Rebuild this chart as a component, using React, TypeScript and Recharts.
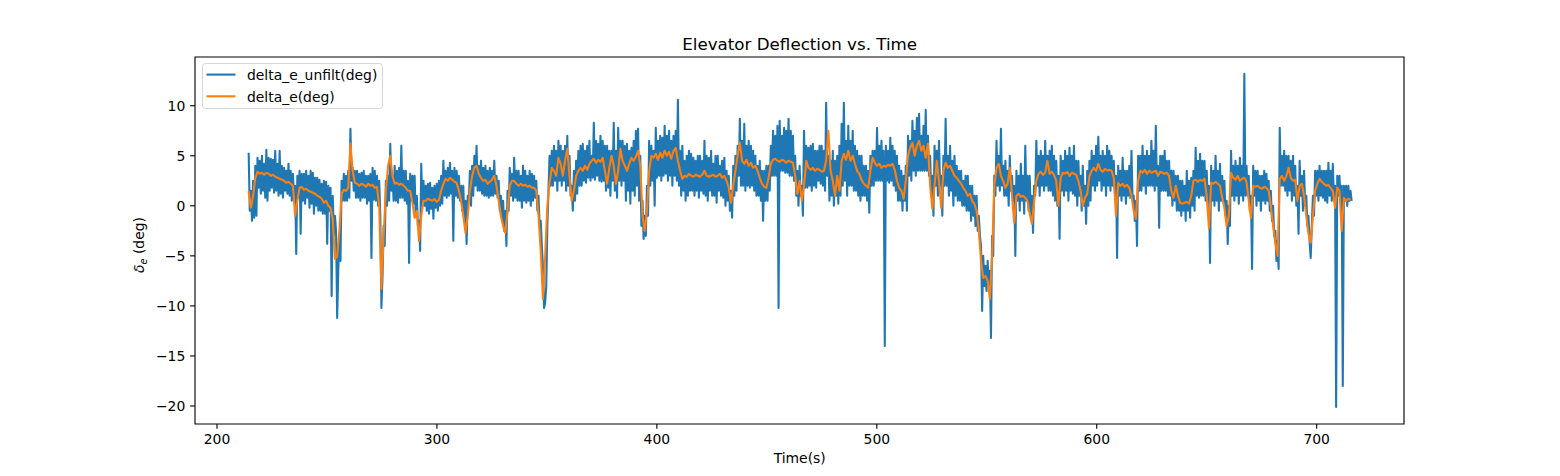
import { LineChart, Line, XAxis, YAxis, Legend, ReferenceArea } from 'recharts'

// ── Axis setup (matplotlib-style figure, 1560 x 476, dpi 100) ─────

const FONT = "'DejaVu Sans', sans-serif"
const PT = 100 / 72
const X_DOMAIN: [number, number] = [190, 739.7]
const Y_DOMAIN: [number, number] = [-21.8, 14.87]
const X_TICKS = [200, 300, 400, 500, 600, 700]
const Y_TICKS = [-20, -15, -10, -5, 0, 5, 10]

// ── Series ─────────────────────────────────────────────────────────
// unfiltered: one sample every ~0.5 s, filtered: one every ~1 s, both from t ≈ 214.4 s

const T0 = 214.4
const DT_UNFILT = 0.503
const DT_FILT = 1.006

const UNFILT = [
  5.3, -0.5, 1.5, -1.5, 2.5, -1.2, 4.0, -1.0, 4.8, 1.8, 4.5, 1.2, 5.0, 1.5, 4.2, 0.8, 5.6, 0.5, 4.8, 1.5,
  4.7, 1.8, 4.6, 1.3, 5.5, 1.5, 4.2, 1.0, 5.5, 1.2, 4.0, 0.8, 3.8, 1.5, 3.5, 1.2, 4.2, 1.0, 3.5, 0.5,
  3.2, 0.5, 2.0, -4.8, 3.0, 0.8, 3.5, -2.8, 3.2, 0.5, 3.2, 0.2, 3.5, 0.8, 3.0, -0.2, 3.5, 0.2, 3.3, -0.8,
  2.8, 0.0, 2.8, -0.5, 2.6, -0.5, 2.2, -0.8, 2.5, -0.8, 2.4, -3.8, 2.0, -0.5, 1.8, -9.0, 1.0, -3.0, -1.0, -2.5,
  -11.2, -6.5, -3.0, -5.5, 2.5, 0.5, 3.2, 0.5, 3.0, 0.5, 3.5, 0.8, 7.7, 2.5, 3.8, 1.5, 3.5, 0.8, 3.5, 0.8,
  3.2, 0.5, 3.3, 0.8, 3.5, 0.8, 3.0, 0.2, 3.0, 0.5, 3.2, -5.2, 3.8, 0.6, 3.5, 0.5, 3.0, 0.0, 2.5, -1.0,
  -10.2, -7.0, -2.0, -4.0, 2.5, 0.0, 3.0, 0.5, 6.2, 1.5, 3.0, 0.5, 4.0, 0.5, 3.5, 0.3, 3.8, 0.8, 6.0, 0.8,
  3.5, 0.5, 3.5, 0.2, 2.5, -5.7, 3.2, 0.5, 3.0, 0.2, 3.0, -1.0, 1.0, -2.0, -1.5, -4.5, 4.2, 0.0, 2.5, 0.0,
  2.0, -0.5, 2.2, -0.8, 2.3, -0.3, 1.8, -1.3, 2.0, -0.2, 2.2, -0.5, 2.5, 0.0, 3.0, 0.2, 4.5, 1.0, 3.5, 0.8,
  3.8, 1.0, 4.3, 1.2, 3.5, -3.5, 3.8, 1.0, 3.5, 0.8, 3.0, 0.5, 2.0, -0.5, 2.0, -1.5, 0.5, -3.8, 1.0, 0.5,
  3.5, 0.0, 4.0, 1.0, 5.0, 2.0, 6.0, 1.5, 4.0, 1.5, 4.5, 1.2, 3.8, 1.0, 4.0, 1.0, 3.5, 0.8, 3.8, 1.0,
  3.5, 1.0, 4.5, 1.2, 3.0, 0.8, 2.5, -0.5, 1.0, -1.5, 0.5, -2.5, -0.5, -4.0, 1.5, -0.5, 3.8, 1.0, 3.2, 0.5,
  4.8, 0.8, 3.5, 0.5, 3.5, 0.5, 3.0, -0.2, 4.0, 0.5, 3.5, 0.3, 3.0, 0.5, 3.5, 0.0, 3.2, 0.5, 3.0, 0.8,
  2.5, -0.5, 1.0, -2.0, -1.5, -4.0, -6.0, -10.2, -9.7, -8.0, -2.0, 1.5, 5.0, 2.0, 5.5, 2.0, 6.0, 2.5, 5.5, 1.5,
  6.5, 2.5, 6.0, 2.0, 5.5, 2.5, 6.0, 1.5, 7.0, 2.0, 5.0, 1.0, 2.0, -0.5, 3.5, 0.5, 4.5, 1.2, 5.5, 2.0,
  6.0, 2.0, 6.2, 2.5, 5.5, 2.3, 6.0, 2.8, 6.5, 2.5, 5.0, 2.8, 8.3, 2.6, 6.5, 3.0, 6.2, 2.5, 7.0, 2.4,
  6.5, 2.5, 6.0, 1.5, 6.0, 1.8, 5.5, 1.0, 5.5, 2.5, 8.3, 1.5, 5.5, 0.8, 7.8, 2.5, 6.5, 2.0, 6.5, 2.5,
  6.0, 0.5, 6.2, 1.5, 5.5, 0.2, 5.8, 1.5, 6.5, 1.0, 7.5, 2.0, 7.7, 0.5, 5.0, -2.0, 0.5, -3.3, -1.0, -3.0,
  2.0, -1.0, 6.5, 2.0, 6.0, 2.5, 5.5, 0.0, 7.8, 2.8, 6.5, 3.0, 7.0, 2.5, 6.8, 3.0, 8.0, 3.2, 7.0, 2.5,
  7.5, 3.0, 6.5, 2.0, 7.0, 3.0, 7.5, 2.5, 10.6, 2.0, 5.5, 1.0, 6.0, 1.5, 4.5, 0.5, 5.0, 1.0, 5.5, 1.5,
  5.2, 1.5, 4.8, 1.0, 4.5, 1.5, 5.0, 0.8, 5.0, 1.5, 4.5, 1.2, 6.5, 1.0, 5.0, 0.5, 4.8, 1.5, 5.5, 1.0,
  4.2, 1.0, 5.0, 0.3, 5.0, 1.5, 4.0, 1.0, 4.5, 0.8, 4.8, 0.0, 3.5, 0.5, 3.0, -0.5, 1.5, -1.2, 4.0, 1.0,
  5.0, 1.5, 6.0, 3.0, 8.7, 2.0, 6.5, 2.0, 8.2, 1.5, 6.0, 2.0, 6.5, 1.8, 6.0, 2.0, 5.5, 1.5, 5.0, 1.0,
  4.0, 1.0, 4.5, 0.5, 3.5, -1.5, 3.5, 0.5, 4.0, 0.5, 4.0, 1.5, 6.0, 3.0, 7.5, 3.0, 7.0, 3.0, 8.0, -10.2,
  8.5, 3.5, 7.0, 3.5, 7.8, 3.3, 7.5, 3.3, 8.7, 3.0, 7.5, 3.0, 7.0, 2.5, 5.0, 1.0, 3.5, 0.0, 4.0, 1.0,
  2.0, -1.0, 7.5, 1.8, 6.0, 1.8, 5.8, 2.0, 6.0, 1.5, 6.2, 2.0, 5.5, 1.8, 5.5, 2.5, 6.0, 2.2, 6.0, 2.0,
  5.5, 1.5, 10.3, 3.0, 5.0, 0.5, 4.5, 1.0, 5.5, 0.0, 4.5, 1.0, 5.0, 0.2, 6.0, 1.0, 8.2, 2.0, 10.3, 2.5,
  6.5, 1.0, 8.0, 2.0, 6.5, 2.0, 7.5, 1.5, 6.0, 1.5, 5.5, 1.0, 5.0, 0.5, 5.0, 1.0, 4.0, 1.0, 4.0, 0.5,
  3.5, -0.7, 5.0, 2.0, 5.5, 2.0, 5.5, 2.5, 7.8, 2.5, 6.0, 2.5, 6.5, 2.5, 5.5, -14.0, 6.0, 2.5, 5.5, 2.3,
  6.8, 2.5, 6.0, 2.0, 5.5, 1.5, 5.0, 0.5, 4.0, 0.5, 3.5, -0.5, 3.0, 0.5, 4.0, -0.5, 7.0, 3.0, 6.5, 2.5,
  8.5, 3.5, 7.5, 3.0, 8.8, 3.5, 9.2, 3.5, 7.0, 3.5, 8.0, 3.5, 9.6, 3.5, 7.0, 3.0, 5.0, 1.0, 3.0, -1.0,
  6.0, 2.0, 5.5, 1.0, 6.5, 2.0, 3.0, -1.0, 5.0, 2.0, 8.7, 2.0, 5.0, 1.0, 6.0, 1.5, 4.5, 0.0, 5.0, 1.0,
  4.0, 0.5, 3.5, 0.5, 3.5, 0.0, 2.5, 0.0, 3.0, -0.5, 3.0, -0.5, 2.0, -1.5, 2.0, -1.0, 1.0, -2.0, 1.0, -2.5,
  -1.0, -3.0, -4.0, -10.5, -5.0, -8.0, -6.0, -8.5, -5.5, -8.0, -6.5, -13.2, -3.0, -5.0, 3.0, 1.0, 6.5, 2.0, 5.0, 1.5,
  7.7, 2.0, 4.0, 1.0, 4.5, 1.0, 3.5, 0.0, 5.0, 1.5, 3.0, 0.5, 2.0, -5.0, 3.5, 0.5, 3.0, -0.5, 4.2, 0.5,
  3.0, -0.8, 6.0, 0.5, 3.0, -0.5, 3.0, -1.0, 1.0, -2.7, 2.0, 1.0, 6.5, 2.0, 5.0, 1.0, 5.5, 2.0, 5.0, 1.5,
  6.5, 2.0, 5.0, 1.5, 5.5, 1.5, 6.0, 1.0, 5.0, 0.5, 4.5, 0.0, 3.0, -3.3, 5.0, 1.5, 4.5, 1.0, 5.5, 1.5,
  5.0, 0.5, 5.8, 1.5, 5.0, 1.2, 6.0, 1.0, 4.5, 0.0, 4.5, 1.0, 3.0, -0.5, 4.0, 0.0, 2.0, -1.8, 3.5, 0.0,
  4.5, 0.5, 5.5, 2.0, 5.0, 1.5, 6.0, 2.0, 6.9, 2.5, 5.0, 1.5, 5.5, 2.0, 5.0, 1.0, 6.0, 2.0, 5.5, 1.5,
  5.0, 2.0, 4.5, 1.2, 3.0, -5.2, 4.0, 1.0, 3.5, 0.5, 4.8, 1.0, 3.5, 0.2, 3.5, 1.0, 4.0, 0.8, 5.5, 0.5,
  1.0, -1.5, 0.5, -4.0, 5.0, 1.5, 5.0, 1.5, 6.0, 2.0, 5.0, 1.2, 5.5, 2.0, 5.0, 2.0, 6.5, 2.0, 5.5, 1.5,
  8.0, 2.0, 4.0, -2.2, 5.0, 1.5, 5.0, 1.5, 5.5, 1.5, 4.5, 1.0, 4.5, 1.0, 3.5, 0.0, 3.5, 0.5, 3.0, -0.5,
  3.0, -0.5, 2.5, -1.0, 2.5, -0.5, 2.0, -1.5, 3.5, -0.5, 2.5, -1.2, 2.8, 0.0, 3.5, -0.5, 5.8, 1.0, 4.5, 0.8,
  5.2, 1.0, 4.5, 1.0, 4.5, 0.5, 3.5, 0.5, 2.0, -5.7, 4.0, 0.5, 3.5, 0.0, 5.0, 0.5, 3.5, -0.5, 4.2, 0.5,
  3.0, 0.5, 2.5, -1.0, 0.5, -3.8, 0.0, -2.0, 5.5, 1.0, 4.0, 0.5, 4.5, 1.0, 4.0, 0.2, 4.8, 1.0, 4.0, 0.5,
  13.2, 1.0, 4.0, 1.0, 3.0, -0.5, 1.0, -6.3, 4.0, 1.0, 3.5, 0.0, 3.5, 0.5, 3.0, -0.5, 3.0, 0.5, 3.5, 0.2,
  3.2, 0.5, 2.5, -0.5, 1.5, -1.5, 0.0, -3.0, -2.5, -5.5, -3.5, -6.3, 7.8, 2.0, 5.0, 2.0, 5.5, 1.5, 5.0, 1.0,
  5.0, 1.5, 4.5, 0.5, 5.0, 1.0, 4.0, 0.0, 2.0, -2.8, 4.5, 1.0, 3.0, -0.5, 3.5, 0.0, 1.0, -2.0, -1.0, -3.5,
  -5.2, -2.0, 1.0, -1.0, 3.5, 1.0, 3.5, 0.5, 4.0, 1.0, 3.5, 0.8, 3.5, 0.5, 3.5, 0.3, 4.3, 1.0, 3.5, 0.5,
  4.2, 0.5, 2.0, -20.1, 3.0, 1.0, 3.0, 0.5, 2.0, -18.0, 2.0, 0.5, 2.0, 0.0, 2.0, 0.5, 1.5, 0.5,
]

const FILT = [
  1.5, -0.2, 1.0, 2.8, 3.4, 3.2, 3.3, 3.1, 3.3, 3.2,
  3.0, 3.1, 2.9, 2.8, 2.7, 2.6, 2.5, 2.3, 2.4, 2.2,
  2.0, -1.0, 0.5, 1.8, 1.9, 1.6, 1.7, 1.5, 1.4, 1.3,
  1.2, 1.0, 0.9, 0.7, 0.3, 0.5, 0.0, -0.2, -1.3, -5.3,
  -5.0, -2.5, 1.2, 1.6, 1.5, 1.8, 6.2, 3.5, 2.3, 2.2,
  2.0, 2.2, 2.1, 1.9, 2.2, 2.0, 2.1, 1.8, 1.9, 0.0,
  -8.3, -3.0, 1.5, 4.0, 5.0, 3.0, 2.2, 2.3, 2.1, 2.2,
  2.0, 1.8, 1.5, 1.5, 0.3, -1.2, -0.5, -3.5, -1.0, 0.5,
  0.5, 0.7, 0.6, 0.5, 0.7, 0.4, 0.6, 1.5, 2.2, 2.7,
  2.5, 2.8, 2.6, 2.4, 2.3, 1.5, 0.5, -1.0, -2.7, -1.0,
  1.5, 3.0, 3.8, 4.0, 3.2, 2.8, 2.5, 2.6, 2.2, 2.4,
  2.6, 3.0, 2.0, 0.5, -1.0, -2.0, -2.7, -0.5, 2.0, 2.5,
  2.5, 2.2, 2.0, 2.2, 2.0, 2.1, 1.9, 2.0, 1.8, 1.8,
  1.5, -1.0, -4.5, -9.3, -5.0, 0.0, 2.3, 3.8, 3.5, 3.0,
  4.8, 4.2, 3.0, 4.5, 5.7, 3.0, 0.5, 1.5, 3.0, 3.5,
  3.8, 3.5, 4.0, 3.6, 4.2, 4.5, 4.7, 4.3, 4.6, 4.4,
  4.8, 3.5, 2.2, 3.8, 5.0, 4.0, 2.2, 3.5, 5.7, 4.5,
  4.0, 3.5, 4.2, 4.8, 4.5, 4.9, 5.5, 4.0, -1.0, -2.5,
  -0.5, 3.5, 5.0, 4.8, 5.2, 4.6, 5.3, 4.8, 5.5, 5.0,
  5.4, 4.7, 5.5, 5.8, 4.5, 3.5, 2.7, 3.0, 2.9, 3.2,
  3.0, 2.9, 3.1, 3.0, 2.9, 3.1, 3.5, 3.0, 2.9, 3.0,
  3.1, 2.9, 3.0, 3.2, 2.8, 3.0, 2.5, 1.8, 0.3, 2.0,
  3.5, 5.0, 6.3, 4.5, 4.2, 4.6, 4.0, 4.3, 3.8, 4.0,
  3.5, 2.8, 2.2, 1.9, 1.8, 2.8, 4.2, 4.6, 4.7, 4.5,
  4.4, 4.6, 4.5, 4.3, 4.5, 4.4, 4.3, 3.0, 1.2, 2.5,
  0.5, 2.0, 4.5, 3.8, 3.6, 3.8, 3.5, 3.7, 3.6, 3.4,
  3.5, 4.5, 7.5, 3.5, 2.5, 1.0, 3.0, 1.5, 4.5, 5.2,
  4.6, 5.5, 4.5, 5.0, 4.2, 3.5, 3.2, 2.6, 2.2, 2.0,
  1.8, 3.5, 4.8, 4.3, 4.0, 4.2, 3.8, 4.0, 3.9, 4.1,
  4.0, 4.2, 3.6, 2.5, 1.8, 1.5, 0.7, 2.5, 5.0, 5.8,
  6.3, 5.0, 6.0, 6.5, 5.5, 6.0, 4.8, 6.2, 2.0, -0.3,
  2.0, 4.5, 2.5, -0.2, 3.5, 4.3, 3.8, 4.0, 3.5, 3.0,
  2.8, 2.5, 2.2, 1.8, 1.5, 1.0, 1.2, 0.5, 0.2, -0.5,
  -2.5, -5.5, -7.2, -7.0, -7.5, -9.3, -5.0, 2.0, 3.8, 4.2,
  3.0, 2.5, 1.8, 2.2, 3.8, 1.0, -1.7, 1.0, 1.2, 0.9,
  1.0, 0.8, 0.5, -0.8, -1.8, 0.5, 2.5, 3.2, 3.4, 3.1,
  3.3, 4.5, 3.2, 3.4, 3.1, 2.5, 0.0, 2.8, 3.3, 3.2,
  3.4, 3.0, 3.3, 3.2, 3.1, 2.5, 1.5, 0.0, 0.8, 1.2,
  3.0, 3.5, 3.8, 3.5, 4.2, 3.6, 3.4, 3.7, 3.5, 3.6,
  3.5, 2.8, -1.0, 2.3, 2.0, 2.2, 1.9, 2.1, 1.8, 1.0,
  -0.5, -1.3, 2.5, 3.5, 3.3, 3.6, 3.2, 3.5, 3.3, 3.4,
  3.5, 3.0, 3.4, 3.3, 3.2, 3.3, 3.0, 1.5, 0.8, 2.0,
  1.0, 0.3, 0.2, 0.3, 0.4, 0.2, 1.0, 2.5, 2.6, 2.4,
  2.6, 2.5, 2.7, 1.0, -2.2, 2.3, 2.2, 2.4, 2.2, 2.0,
  0.8, -0.2, -2.0, -1.0, 3.3, 2.8, 2.6, 3.0, 2.5, 2.7,
  2.8, 2.4, 0.5, -1.2, 2.0, 1.9, 2.0, 1.8, 1.7, 1.9,
  1.8, 1.5, 0.0, -2.0, -3.7, -5.0, 2.7, 3.0, 2.5, 3.0,
  3.8, 2.8, 2.5, 2.6, 0.5, 2.0, 2.2, 1.0, -1.0, -2.8,
  -3.7, -1.0, 1.5, 2.2, 2.7, 2.4, 2.2, 2.0, 2.1, 1.8,
  1.5, -0.2, 1.8, 1.5, -2.5, 0.8, 0.5, 0.7, 0.6,
]

const SERIES = [
  { key: 'unfilt', name: 'delta_e_unfilt(deg)', color: '#1f77b4',
    data: UNFILT.map((v, i) => ({ t: T0 + i * DT_UNFILT, unfilt: v })) },
  { key: 'filt', name: 'delta_e(deg)', color: '#ff7f0e',
    data: FILT.map((v, i) => ({ t: T0 + i * DT_FILT, filt: v })) },
]

// matplotlib prints a real minus sign
const fmt = (v: number) => String(v).replace('-', '\u2212')

function XTick({ x, y, payload }: any) {
  return (
    <text x={x} y={y} dy={10.5} textAnchor="middle" fontFamily={FONT} fontSize={13.9} fill="#000">
      {fmt(payload.value)}
    </text>
  )
}

function YTick({ x, y, payload }: any) {
  return (
    <text x={x} y={y} dy={5} textAnchor="end" fontFamily={FONT} fontSize={13.9} fill="#000">
      {fmt(payload.value)}
    </text>
  )
}

function LegendBox({ payload }: any) {
  // keep the plotting order, not the alphabetical one
  const items = SERIES.map(s => (payload ?? []).find((p: any) => p.value === s.name) ?? { value: s.name, color: s.color })
  return (
    <svg width={182} height={47} style={{ display: 'block' }}>
      <rect x={0.5} y={0.5} width={180} height={45} rx={3}
        fill="rgba(255,255,255,0.8)" stroke="#d6d6d6" strokeWidth={1} />
      {items.map((p: any, i: number) => (
        <g key={p.value}>
          <line x1={4.5} x2={33.5} y1={11.6 + i * 21.7} y2={11.6 + i * 21.7}
            stroke={p.color} strokeWidth={1.5 * PT} />
          <text x={45} y={17.3 + i * 21.7} fontFamily={FONT} fontSize={13.9} fill="#000">
            {p.value}
          </text>
        </g>
      ))}
    </svg>
  )
}

export default function App() {
  return (
    <div style={{ position: 'absolute', left: 0, top: 0, background: '#fff' }}>
      <LineChart
        width={1560}
        height={476}
        margin={{ top: 57, right: 156, bottom: 12, left: 95 }}
      >
        <text x={799.7} y={50} textAnchor="middle" fontFamily={FONT} fontSize={16.7} fill="#000">
          Elevator Deflection vs. Time
        </text>

        <ReferenceArea
          x1={X_DOMAIN[0]} x2={X_DOMAIN[1]} y1={Y_DOMAIN[0]} y2={Y_DOMAIN[1]}
          fill="none" fillOpacity={0} stroke="#000" strokeWidth={0.8 * PT}
        />

        <XAxis
          dataKey="t"
          type="number"
          domain={X_DOMAIN}
          ticks={X_TICKS}
          allowDataOverflow
          allowDuplicatedCategory={false}
          height={40}
          axisLine={false}
          tickLine={{ stroke: '#000', strokeWidth: 0.8 * PT }}
          tickSize={3.5 * PT}
          tickMargin={3.5 * PT}
          tick={<XTick />}
          interval={0}
          label={{
            content: () => (
              <text x={799.7} y={463} textAnchor="middle" fontFamily={FONT} fontSize={13.9} fill="#000">
                Time(s)
              </text>
            ),
          }}
        />

        <YAxis
          type="number"
          domain={Y_DOMAIN}
          ticks={Y_TICKS}
          allowDataOverflow
          width={100}
          axisLine={false}
          tickLine={{ stroke: '#000', strokeWidth: 0.8 * PT }}
          tickSize={3.5 * PT}
          tickMargin={3.5 * PT}
          tick={<YTick />}
          interval={0}
          label={{
            content: () => (
              <text x={144} y={245} transform="rotate(-90, 144, 245)" textAnchor="middle"
                fontFamily={FONT} fontSize={13.9} fill="#000">
                <tspan fontStyle="italic">δ</tspan>
                <tspan fontStyle="italic" fontSize={9.7} dy={3}>e</tspan>
                <tspan dy={-3}> (deg)</tspan>
              </text>
            ),
          }}
        />

        <Legend
          layout="vertical"
          align="center"
          verticalAlign="middle"
          wrapperStyle={{ left: 202, top: 63, width: 182, height: 47 }}
          content={<LegendBox />}
        />

        {SERIES.map(s => (
          <Line
            key={s.key}
            data={s.data}
            dataKey={s.key}
            name={s.name}
            stroke={s.color}
            strokeWidth={1.5 * PT}
            strokeLinejoin="round"
            dot={false}
            activeDot={false}
            type="linear"
            isAnimationActive={false}
          />
        ))}
      </LineChart>
    </div>
  )
}
